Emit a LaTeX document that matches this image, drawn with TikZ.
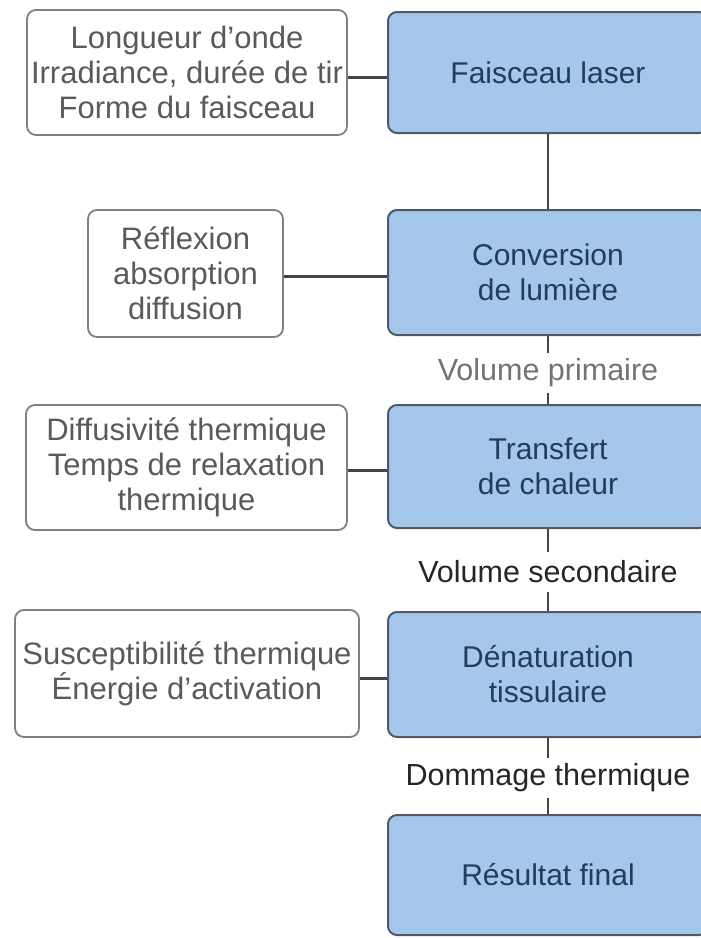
\documentclass[tikz,border=0pt]{standalone}
\usepackage{fontspec}
\setmainfont{Liberation Sans}
\definecolor{bluefill}{HTML}{A6C7EC}
\definecolor{blueborder}{HTML}{505A66}
\definecolor{bluetext}{HTML}{243C5C}
\definecolor{whiteborder}{HTML}{808080}
\definecolor{greytext}{HTML}{5A5A5A}
\definecolor{conncol}{HTML}{454545}
\begin{document}
\begin{tikzpicture}[x=1pt,y=-1pt,
  bluebox/.style={draw=blueborder, line width=2pt, fill=bluefill, rounded corners=9pt,
    text=bluetext, align=center, font=\fontsize{30}{35}\selectfont, inner sep=0pt,
    minimum width=320pt},
  whitebox/.style={draw=whiteborder, line width=1.8pt, fill=white, rounded corners=9pt,
    text=greytext, align=center, font=\fontsize{31}{35}\selectfont, inner sep=0pt},
  lbl/.style={align=center, font=\fontsize{30.5}{35}\selectfont, inner sep=0pt, minimum height=40pt},
  conn/.style={draw=conncol, line width=3pt},
  vconn/.style={draw=conncol, line width=2.5pt}]
\useasboundingbox (0,0) rectangle (701,938);
\fill[white] (0,0) rectangle (701,938);

% blue main boxes
\node[bluebox, minimum height=121pt] (b1) at (548,72.5) {Faisceau laser};
\node[bluebox, minimum height=125pt] (b2) at (548,272.5) {Conversion\\de lumière};
\node[bluebox, minimum height=123pt] (b3) at (548,466.5) {Transfert\\de chaleur};
\node[bluebox, minimum height=125pt] (b4) at (548,674.5) {Dénaturation\\tissulaire};
\node[bluebox, minimum height=120pt] (b5) at (548,875) {Résultat final};

% white parameter boxes
\node[whitebox, minimum width=320pt, minimum height=125pt] (w1) at (187,72.5)
  {Longueur d'onde\\Irradiance, durée de tir\\Forme du faisceau};
\node[whitebox, minimum width=195pt, minimum height=127pt] (w2) at (185.5,273.5)
  {Réflexion\\absorption\\diffusion};
\node[whitebox, minimum width=321pt, minimum height=125pt] (w3) at (186.5,467.5)
  {Diffusivité thermique\\Temps de relaxation\\thermique};
\node[whitebox, minimum width=344pt, minimum height=127pt] (w4) at (187,673.5)
  {Susceptibilité thermique\\Énergie d'activation};

% labels on the vertical chain
\node[lbl, text=black!55] (l1) at (548,373) {Volume primaire};
\node[lbl, text=black!85] (l2) at (548,572) {Volume secondaire};
\node[lbl, text=black!85] (l3) at (548,778) {Dommage thermique};

% vertical connectors
\draw[vconn] (b1.south) -- (b2.north);
\draw[vconn] (b2.south) -- (l1.north);
\draw[vconn] (l1.south) -- (b3.north);
\draw[vconn] (b3.south) -- (l2.north);
\draw[vconn] (l2.south) -- (b4.north);
\draw[vconn] (b4.south) -- (l3.north);
\draw[vconn] (l3.south) -- (b5.north);

% horizontal connectors
\draw[conn] ([yshift=-5pt]w1.east) -- ([yshift=-5pt]w1.east -| b1.west);
\draw[conn] ([yshift=-3pt]w2.east) -- ([yshift=-3pt]w2.east -| b2.west);
\draw[conn] ([yshift=-3pt]w3.east) -- ([yshift=-3pt]w3.east -| b3.west);
\draw[conn] ([yshift=-5pt]w4.east) -- ([yshift=-5pt]w4.east -| b4.west);
\end{tikzpicture}
\end{document}
